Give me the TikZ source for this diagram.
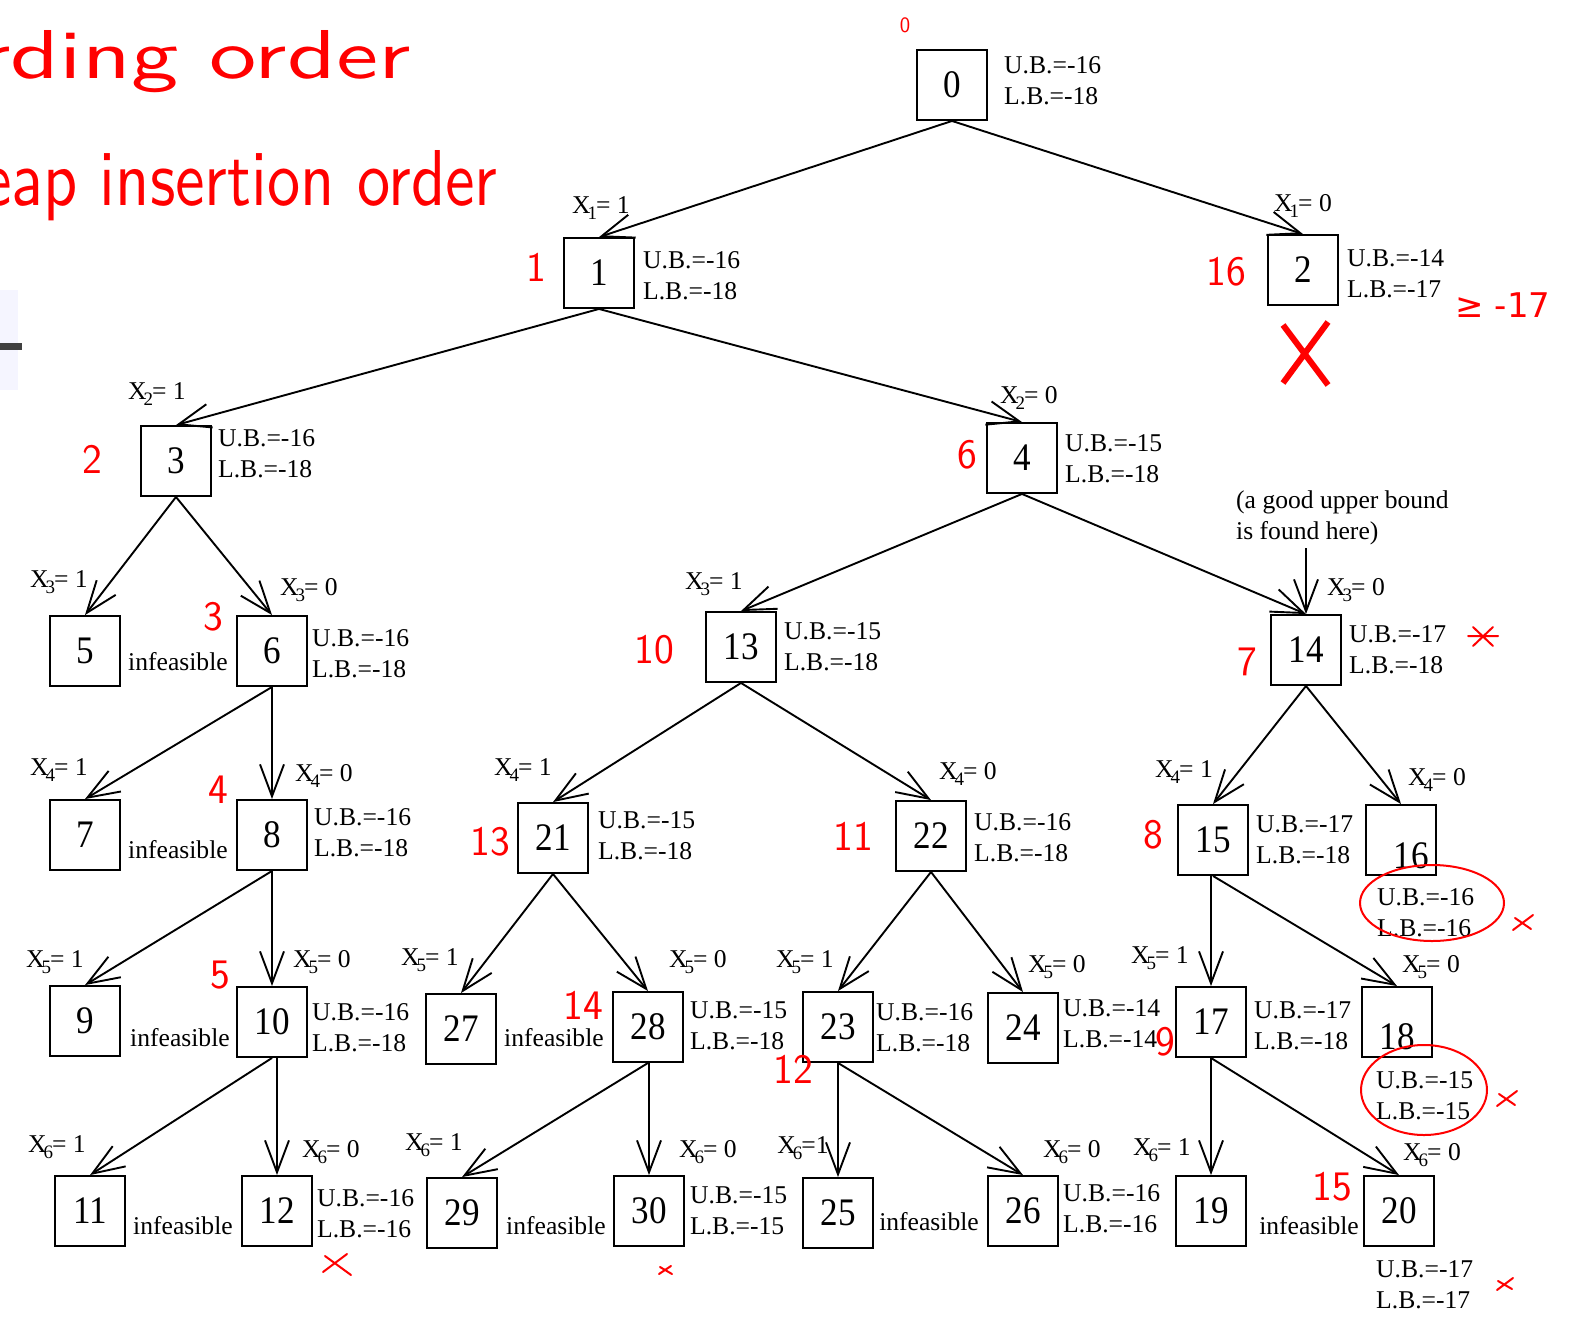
\documentclass[tikz,border=0pt]{standalone}
\usepackage{fontspec}
\setmainfont{Liberation Serif}
\newfontfamily\boxfont[FakeStretch=0.9]{Liberation Serif}
\newfontfamily\symfont{DejaVu Sans}
\usetikzlibrary{arrows.meta}
\newcommand{\xeq}[2]{X\kern-3pt\raisebox{-6pt}{\fontsize{19}{19}\selectfont #1}\kern-1pt= #2}
\tikzset{
  bx/.style={draw, line width=1.9pt, minimum width=70pt, minimum height=70pt, inner sep=0pt, font=\boxfont\fontsize{39}{39}\selectfont},
  arr/.style={line width=1.9pt, -{Straight Barb[length=32pt,width=24pt,line width=1.9pt]}},
  lbl/.style={inner sep=0pt, font=\fontsize{25.6}{31}\selectfont},
  bnd/.style={inner sep=0pt, anchor=west, align=left, font=\fontsize{25.6}{31}\selectfont},
  red/.style={text=red, inner sep=0pt, font=\sffamily\fontsize{42}{42}\selectfont},
  rline/.style={draw=red, line width=2pt, line cap=round}
}
\begin{document}
\begin{tikzpicture}[x=1pt,y=-1pt]
\useasboundingbox (0,0) rectangle (1575,1326);
\clip (0,0) rectangle (1575,1326);
% screenshot artifact at left
\fill[blue!4] (0,290) rectangle (18,390);
\fill[black!75] (0,343) rectangle (22,350);
% boxes
\node[bx] (n0) at (952,85) {0};
\node[bx] (n1) at (599,273) {1};
\node[bx] (n2) at (1303,270) {2};
\node[bx] (n3) at (176,461) {3};
\node[bx] (n4) at (1022,458) {4};
\node[bx] (n5) at (85,651) {5};
\node[bx] (n6) at (272,651) {6};
\node[bx] (n13) at (741,647) {13};
\node[bx] (n14) at (1306,650) {14};
\node[bx] (n7) at (85,835) {7};
\node[bx] (n8) at (272,835) {8};
\node[bx] (n21) at (553,838) {21};
\node[bx] (n22) at (931,836) {22};
\node[bx] (n15) at (1213,840) {15};
\node[bx] (n16) at (1401,840) {};
\node[inner sep=0pt, font=\boxfont\fontsize{39}{39}\selectfont] (n16t) at (1411,856) {16};
\node[bx] (n9) at (85,1021) {9};
\node[bx] (n10) at (272,1022) {10};
\node[bx] (n27) at (461,1029) {27};
\node[bx] (n28) at (648,1027) {28};
\node[bx] (n23) at (838,1027) {23};
\node[bx] (n24) at (1023,1028) {24};
\node[bx] (n17) at (1211,1022) {17};
\node[bx] (n18) at (1397,1022) {};
\node[inner sep=0pt, font=\boxfont\fontsize{39}{39}\selectfont] (n18t) at (1397,1037) {18};
\node[bx] (n11) at (90,1211) {11};
\node[bx] (n12) at (277,1211) {12};
\node[bx] (n29) at (462,1213) {29};
\node[bx] (n30) at (649,1211) {30};
\node[bx] (n25) at (838,1213) {25};
\node[bx] (n26) at (1023,1211) {26};
\node[bx] (n19) at (1211,1211) {19};
\node[bx] (n20) at (1399,1211) {20};
% slanted edges
\foreach \p/\c in {0/1,0/2,1/3,1/4,3/5,3/6,4/13,4/14,6/7,13/21,13/22,14/15,14/16,8/9,21/27,21/28,22/23,22/24,15/18,10/11,28/29,23/26,17/20}
  \draw[arr] (n\p.south) -- (n\c.north);
% vertical edges
\foreach \p/\c in {6/8,8/10,10/12,28/30,23/25,15/17,17/19}
  \draw[arr] (n\p.south -| n\c.north) -- (n\c.north);
% annotation
\node[lbl, anchor=west, align=left] (note) at (1236,517.5) {(a good upper bound\\is found here)};
\coordinate (ann) at (1306,548);
\draw[arr] (ann) -- (n14.north);
% edge labels
\node[lbl] (x01) at (601,208) {\xeq{1}{1}};
\node[lbl] (x02) at (1303,206) {\xeq{1}{0}};
\node[lbl] (x13) at (157,394) {\xeq{2}{1}};
\node[lbl] (x14) at (1029,398) {\xeq{2}{0}};
\node[lbl] (x35) at (59,582) {\xeq{3}{1}};
\node[lbl] (x36) at (309,590) {\xeq{3}{0}};
\node[lbl] (x413) at (714,584) {\xeq{3}{1}};
\node[lbl] (x414) at (1356,590) {\xeq{3}{0}};
\node[lbl] (x67) at (59,770) {\xeq{4}{1}};
\node[lbl] (x68) at (324,776) {\xeq{4}{0}};
\node[lbl] (x1321) at (523,770) {\xeq{4}{1}};
\node[lbl] (x1322) at (968,774) {\xeq{4}{0}};
\node[lbl] (x1415) at (1184,772) {\xeq{4}{1}};
\node[lbl] (x1416) at (1437,780) {\xeq{4}{0}};
\node[lbl] (x89) at (55,962) {\xeq{5}{1}};
\node[lbl] (x810) at (322,962) {\xeq{5}{0}};
\node[lbl] (x2127) at (430,960) {\xeq{5}{1}};
\node[lbl] (x2128) at (698,962) {\xeq{5}{0}};
\node[lbl] (x2223) at (805,962) {\xeq{5}{1}};
\node[lbl] (x2224) at (1057,967) {\xeq{5}{0}};
\node[lbl] (x1517) at (1160,958) {\xeq{5}{1}};
\node[lbl] (x1518) at (1431,967) {\xeq{5}{0}};
\node[lbl] (x1011) at (57,1147) {\xeq{6}{1}};
\node[lbl] (x1012) at (331,1152) {\xeq{6}{0}};
\node[lbl] (x2829) at (434,1145) {\xeq{6}{1}};
\node[lbl] (x2830) at (708,1152) {\xeq{6}{0}};
\node[lbl] (x2325) at (803,1148) {X\kern-3pt\raisebox{-6pt}{\fontsize{19}{19}\selectfont 6}\kern-1pt=1};
\node[lbl] (x2326) at (1072,1152) {\xeq{6}{0}};
\node[lbl] (x1719) at (1162,1150) {\xeq{6}{1}};
\node[lbl] (x1720) at (1432,1155) {\xeq{6}{0}};
% bounds
\node[bnd] (u0) at (1004,80.5) {U.B.=-16\\L.B.=-18};
\node[bnd] (u1) at (643,275.5) {U.B.=-16\\L.B.=-18};
\node[bnd] (u2) at (1347,273.5) {U.B.=-14\\L.B.=-17};
\node[bnd] (u3) at (218,453.5) {U.B.=-16\\L.B.=-18};
\node[bnd] (u4) at (1065,458.5) {U.B.=-15\\L.B.=-18};
\node[bnd] (u6) at (312,653.5) {U.B.=-16\\L.B.=-18};
\node[bnd] (u13) at (784,646.5) {U.B.=-15\\L.B.=-18};
\node[bnd] (u14) at (1349,649.5) {U.B.=-17\\L.B.=-18};
\node[bnd] (u8) at (314,832.5) {U.B.=-16\\L.B.=-18};
\node[bnd] (u21) at (598,835.5) {U.B.=-15\\L.B.=-18};
\node[bnd] (u22) at (974,837.5) {U.B.=-16\\L.B.=-18};
\node[bnd] (u15) at (1256,839.5) {U.B.=-17\\L.B.=-18};
\node[bnd] (u16) at (1377,912.5) {U.B.=-16\\L.B.=-16};
\node[bnd] (u10) at (312,1027.5) {U.B.=-16\\L.B.=-18};
\node[bnd] (u28) at (690,1025.5) {U.B.=-15\\L.B.=-18};
\node[bnd] (u23) at (876,1027.5) {U.B.=-16\\L.B.=-18};
\node[bnd] (u24) at (1063,1023.5) {U.B.=-14\\L.B.=-14};
\node[bnd] (u17) at (1254,1025.5) {U.B.=-17\\L.B.=-18};
\node[bnd] (u18) at (1376,1095.5) {U.B.=-15\\L.B.=-15};
\node[bnd] (u12) at (317,1213.5) {U.B.=-16\\L.B.=-16};
\node[bnd] (u30) at (690,1210.5) {U.B.=-15\\L.B.=-15};
\node[bnd] (u26) at (1063,1208.5) {U.B.=-16\\L.B.=-16};
\node[bnd] (u20) at (1376,1284.5) {U.B.=-17\\L.B.=-17};
% infeasible
\node[lbl] (i5) at (178,662) {infeasible};
\node[lbl] (i7) at (178,850) {infeasible};
\node[lbl] (i9) at (180,1038) {infeasible};
\node[lbl] (i11) at (183,1226) {infeasible};
\node[lbl] (i27) at (554,1038) {infeasible};
\node[lbl] (i29) at (556,1226) {infeasible};
\node[lbl] (i25) at (929,1222) {infeasible};
\node[lbl] (i19) at (1309,1226) {infeasible};
% red handwritten annotations
\node[text=red, inner sep=0pt, anchor=base west] (t1) at (-22,78) {\resizebox{432pt}{48pt}{\sffamily rding order}};
\node[text=red, inner sep=0pt, anchor=base west] (t2) at (-18,205) {\resizebox{515pt}{55pt}{\sffamily eap insertion order}};
\node[red, font=\sffamily\fontsize{22}{22}\selectfont] (r0) at (905,25) {0};
\node[red] (r1) at (536,267) {1};
\node[red] (r16) at (1226,272) {16};
\node[red, font=\symfont\fontsize{34}{34}\selectfont] (rge) at (1503,305) {≥ -17};
\draw[draw=red, line width=6pt] (1283,325) -- (1328,385) (1328,322) -- (1283,383);
\node[red] (r2) at (92,459) {2};
\node[red] (r6) at (967,455) {6};
\node[red] (r3) at (213,617) {3};
\node[red] (r10) at (654,650) {10};
\node[red] (r7) at (1247,662) {7};
\draw[rline] (1468,636) -- (1498,636) (1473,627) -- (1493,646) (1493,627) -- (1473,646);
\node[red] (r4) at (218,790) {4};
\node[red] (r13) at (490,842) {13};
\node[red] (r11) at (853,836) {11};
\node[red] (r8) at (1153,835) {8};
\node[red] (r5) at (220,975) {5};
\node[red] (r14) at (583,1005) {14};
\node[red] (r9) at (1165,1042) {9};
\node[red] (r12) at (793,1069) {12};
\node[red] (r15) at (1332,1187) {15};
\draw[rline] (1432,903) ellipse [x radius=72, y radius=38];
\draw[rline] (1424,1090) ellipse [x radius=63, y radius=45];
\draw[rline] (1513,930) -- (1533,915) (1515,918) -- (1531,929);
\draw[rline] (1497,1106) -- (1517,1091) (1499,1094) -- (1515,1105);
\draw[rline] (323,1272) -- (347,1254) (325,1256) -- (351,1275);
\draw[rline] (659,1274) -- (671,1266) (660,1267) -- (672,1274);
\draw[rline] (1497,1290) -- (1513,1278) (1498,1281) -- (1512,1289);
\end{tikzpicture}
\end{document}
